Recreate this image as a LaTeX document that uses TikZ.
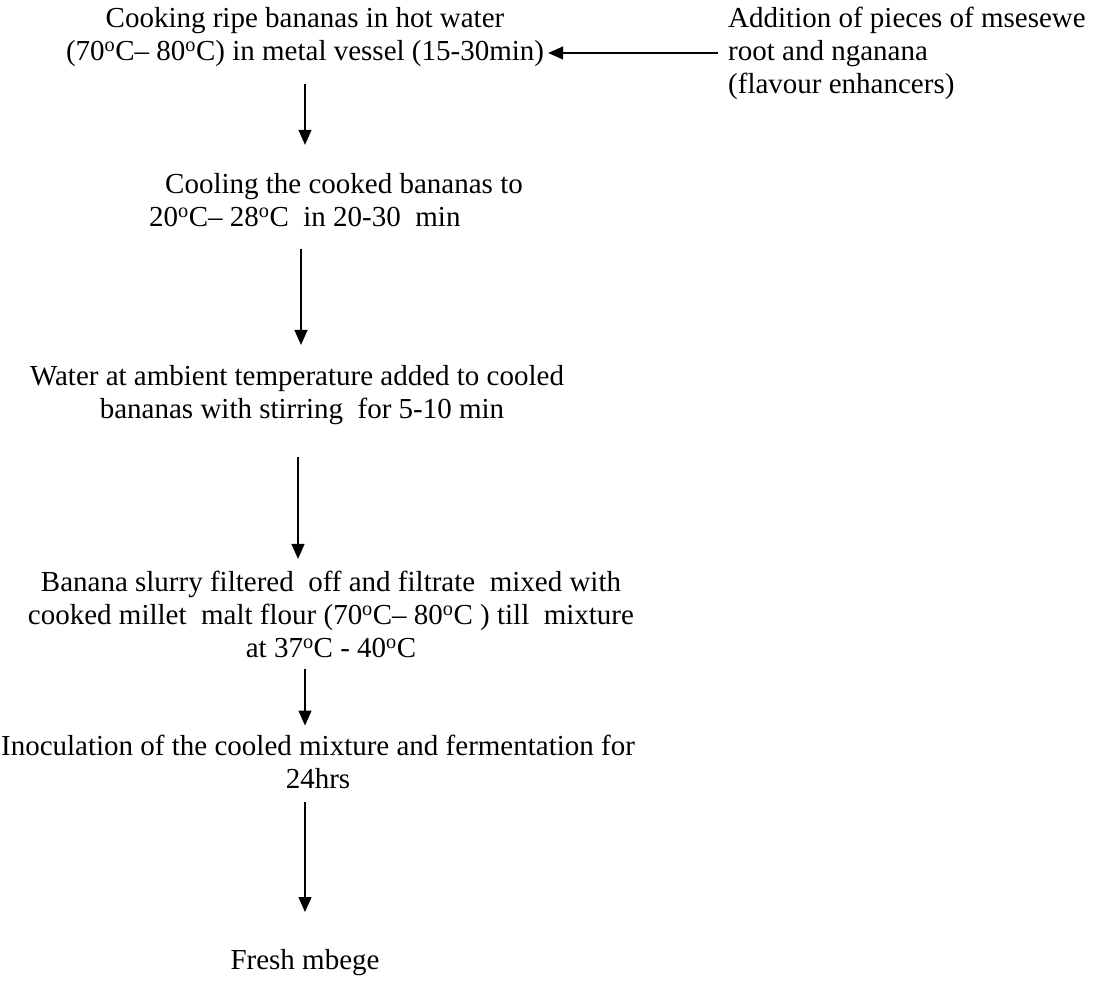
\documentclass[tikz,border=0pt]{standalone}
\usepackage{fontspec}
\setmainfont{Liberation Serif}
\usetikzlibrary{arrows.meta,calc}
\begin{document}
\begin{tikzpicture}[x=1pt,y=-1pt,
  txt/.style={inner sep=0pt,align=center,font=\fontsize{29}{33}\selectfont},
  txtl/.style={inner sep=0pt,align=left,font=\fontsize{29}{33}\selectfont},
  arr/.style={line width=1.3pt,-{Triangle[length=15pt,width=13pt]}}]
\useasboundingbox (0,0) rectangle (1105,982);
\node[txt] (n1) at (305,37) {Cooking ripe bananas in hot water\\(70\textsuperscript{o}C-- 80\textsuperscript{o}C) in metal vessel (15-30min)};
\node[txtl,anchor=west] (side) at (728,53) {Addition of pieces of msesewe\\root and nganana\\(flavour enhancers)};
\node[txtl,anchor=west] (n2) at (149,200) {\hspace*{16pt}Cooling the cooked bananas to\\20\textsuperscript{o}C-- 28\textsuperscript{o}C\ \ in 20-30\ \ min};
\node[txt] (n3) at (297,395) {Water at ambient temperature added to cooled\\\hspace*{10pt}bananas with stirring\ \ for 5-10 min};
\node[txt] (n4) at (331,614) {Banana slurry filtered\ \ off and filtrate\ \ mixed with\\cooked millet\ \ malt flour (70\textsuperscript{o}C-- 80\textsuperscript{o}C ) till\ \ mixture\\at 37\textsuperscript{o}C - 40\textsuperscript{o}C};
\node[txt] (n5) at (318,762) {Inoculation of the cooled mixture and fermentation for\\24hrs};
\node[txt] (n6) at (305,963) {Fresh mbege};
\draw[arr] ([xshift=-10pt]side.west) -- ([xshift=4pt]side.west -| n1.east);
\draw[arr] (n1.south) ++(0,17) -- ++(0,61);
\draw[arr] (n2.south -| 301,0) ++(0,22) -- ++(0,96);
\draw[arr] (n3.south -| 298,0) ++(0,32) -- ++(0,102);
\draw[arr] (n4.south -| 305,0) ++(0,11) -- ++(0,57);
\draw[arr] (n5.south -| 305,0) ++(0,13) -- ++(0,110);
\end{tikzpicture}
\end{document}
